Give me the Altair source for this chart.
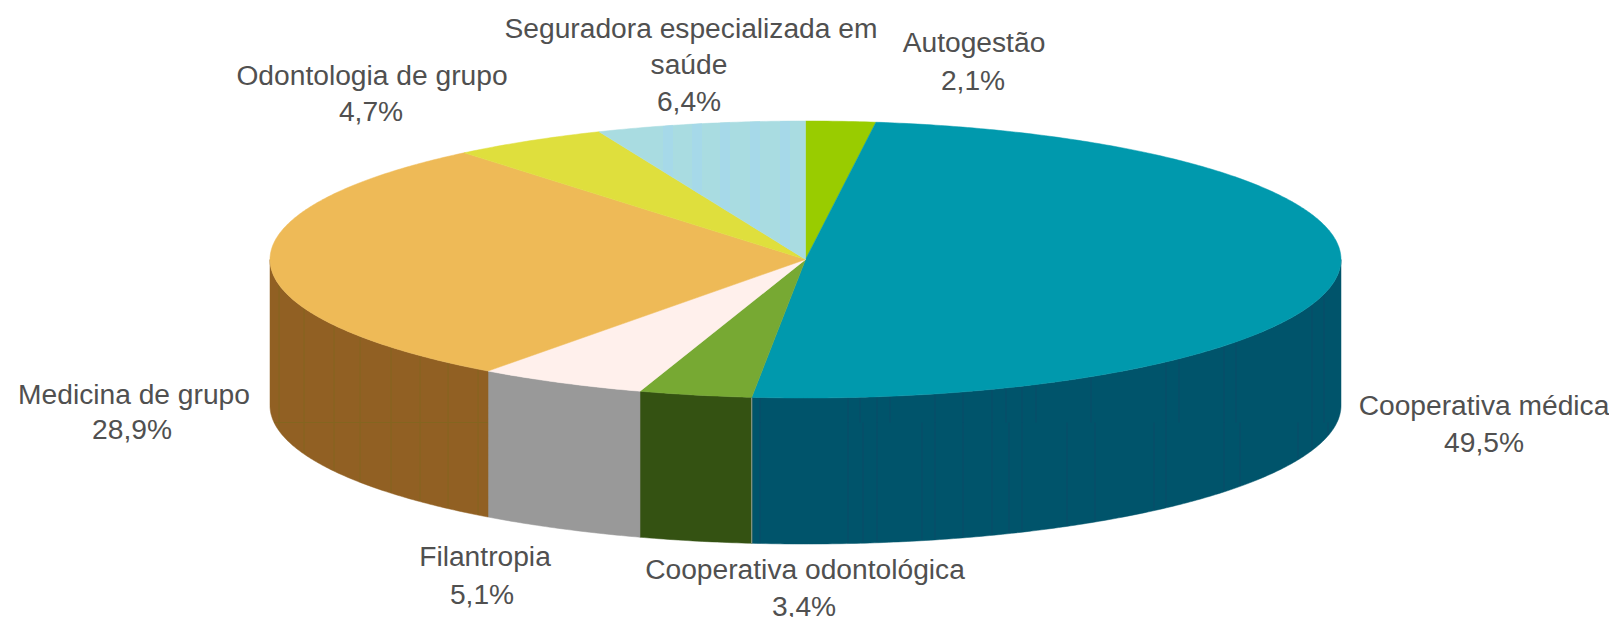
import numpy as np
import pandas as pd
import altair as alt

# ---- data -----------------------------------------------------------------
CATEGORIES = ["Autogestão", "Cooperativa médica", "Cooperativa odontológica", "Filantropia",
              "Medicina de grupo", "Odontologia de grupo", "Seguradora especializada em saúde"]
SHARES = [2.1, 49.5, 3.4, 5.1, 28.9, 4.7, 6.4]

# ---- styles ---------------------------------------------------------------
TOP_COLORS = ["#99cc00", "#0099ad", "#77a933", "#fff0ec", "#eeba57", "#dfdf3d", "#a9dce1"]
SIDE_COLORS = ["#7da600", "#00546b", "#345212", "#999999", "#916023", "#b5b52f", "#8ab4ba"]
TEXT_COLOR = "#505050"

# ---- layout (reference pixels) --------------------------------------------
CX, CY, RX, RY, DEPTH = 805.5, 259.5, 535.5, 138.5, 146.0
SPLIT_Y = 422.5
TEAL_UPPER = [760, 848, 860, 877, 890, 935, 963, 992, 1006, 1022, 1036, 1091, 1166, 1179, 1224, 1236, 1312, 1324]
TEAL_LOWER = [760, 848, 863, 877, 922, 935, 963, 992, 1009, 1022, 1067, 1095, 1154, 1166, 1224, 1240, 1298, 1312, 1328]
BROWN_STRIPES = [279, 304, 334, 360, 391, 420, 448, 478]
BLUE_BANDS = [668, 697, 725, 755, 785]
BAND_HALF = 5
LABEL_LINES = [
    ("Seguradora especializada em", 691, 30), ("saúde", 689, 66), ("6,4%", 689, 103),
    ("Autogestão", 974, 44), ("2,1%", 973, 82),
    ("Odontologia de grupo", 372, 77), ("4,7%", 371, 113),
    ("Medicina de grupo", 134, 396), ("28,9%", 132, 431),
    ("Filantropia", 485, 558), ("5,1%", 482, 596),
    ("Cooperativa odontológica", 805, 571), ("3,4%", 804, 608),
    ("Cooperativa médica", 1484, 407), ("49,5%", 1484, 444),
]
W, H = 1601, 609


def ex(t):
    return CX + RX * np.sin(np.radians(t))


def ey(t):
    return CY - RY * np.cos(np.radians(t))


# pie layout from the shares: angle is the parameter along the ellipse
# (the printed shares add up to 100.1 %, so the last slice simply closes the circle)
edges = np.minimum(np.concatenate([[0.0], np.cumsum(SHARES)]) / 100.0 * 360.0, 360.0)
top_rows, side_rows = [], []
for cat, t0, t1 in zip(CATEGORIES, edges[:-1], edges[1:]):
    ts = np.linspace(t0, t1, max(int(t1 - t0) * 2, 8))
    poly = [(CX, CY)] + [(ex(t), ey(t)) for t in ts]
    top_rows += [dict(cat=cat, i=i, x=float(x), y=float(y)) for i, (x, y) in enumerate(poly)]
    a, b = max(t0, 90.0), min(t1, 270.0)
    if b > a:
        ts = np.linspace(a, b, max(int(b - a) * 2, 8))
        poly = [(ex(t), ey(t)) for t in ts] + [(ex(t), ey(t) + DEPTH) for t in ts[::-1]]
        side_rows += [dict(cat=cat, i=i, x=float(x), y=float(y)) for i, (x, y) in enumerate(poly)]


def front_top(x):
    return CY + RY * np.sqrt(max(0.0, 1 - ((x - CX) / RX) ** 2))


def back_top(x):
    return CY - RY * np.sqrt(max(0.0, 1 - ((x - CX) / RX) ** 2))


stripe_rows = []
for x in TEAL_UPPER:
    stripe_rows.append(dict(x=x, y=front_top(x) + 1, y2=SPLIT_Y, c="#0a4a69"))
for x in TEAL_LOWER:
    stripe_rows.append(dict(x=x, y=SPLIT_Y, y2=front_top(x) + DEPTH - 1, c="#0a4a69"))
for x in BROWN_STRIPES:
    stripe_rows.append(dict(x=x, y=front_top(x) + 1, y2=front_top(x) + DEPTH - 1, c="#84651f"))
# thin pale seam between the dark green and the teal wall
seam_x = float(ex(edges[2]))
stripe_rows.append(dict(x=seam_x, y=front_top(seam_x), y2=front_top(seam_x) + DEPTH, c="#9aa394"))

# pale vertical bands on the light blue slice, cut by the slice's diagonal edge
qx, qy = ex(edges[6]), ey(edges[6])


def y_diag(v):
    return CY + (v - CX) / (qx - CX) * (qy - CY)


band_rows = []
for k, x in enumerate(BLUE_BANDS):
    x0, x1 = x - BAND_HALF, x + BAND_HALF
    pts = [(x0, back_top(x0)), (x1, back_top(x1)), (x1, y_diag(x1)), (x0, y_diag(x0))]
    band_rows += [dict(b=k, i=i, x=float(a), y=float(c)) for i, (a, c) in enumerate(pts)]

X = alt.X("x:Q", scale=alt.Scale(domain=[8, 8 + W], nice=False, zero=False), axis=None)
Y = alt.Y("y:Q", scale=alt.Scale(domain=[8 + H, 8], nice=False, zero=False), axis=None)


def polys(rows, colors):
    sc = alt.Scale(domain=CATEGORIES, range=colors)
    return alt.Chart(pd.DataFrame(rows)).mark_line(interpolate="linear-closed", strokeWidth=0.5).encode(
        x=X, y=Y, order="i:Q",
        detail="cat:N",
        fill=alt.Fill("cat:N", scale=sc, legend=None),
        stroke=alt.Stroke("cat:N", scale=sc, legend=None),
    )


sides = polys(side_rows, SIDE_COLORS)
tops = polys(top_rows, TOP_COLORS)
stripes = alt.Chart(pd.DataFrame(stripe_rows)).mark_rule(strokeWidth=1).encode(
    x=X, y=Y, y2="y2:Q", color=alt.Color("c:N", scale=None, legend=None)
)
split_left = float(CX - RX * np.sqrt(1 - ((SPLIT_Y - DEPTH - CY) / RY) ** 2))
split = alt.Chart(pd.DataFrame({"x": [split_left], "x2": [float(ex(edges[4]))], "y": [SPLIT_Y]})).mark_rule(
    strokeWidth=1, color="#84651f"
).encode(x=X, x2="x2:Q", y=Y)
bands = alt.Chart(pd.DataFrame(band_rows)).mark_line(
    interpolate="linear-closed", strokeWidth=0, fill="#a6d9e9"
).encode(x=X, y=Y, order="i:Q", detail="b:N")
labels = alt.Chart(pd.DataFrame(LABEL_LINES, columns=["t", "x", "y"])).mark_text(
    font="Liberation Sans", fontSize=28.2, color=TEXT_COLOR, align="center", baseline="middle"
).encode(x=X, y=Y, text="t:N")

chart = alt.layer(sides, stripes, split, tops, bands, labels).resolve_scale(
    fill="independent", stroke="independent", color="independent"
).properties(
    width=W, height=H, padding=0, autosize=alt.AutoSizeParams(type="none"), background="white"
).configure_view(stroke=None)

chart.save("out.html", embed_options={"renderer": "svg", "actions": False})
